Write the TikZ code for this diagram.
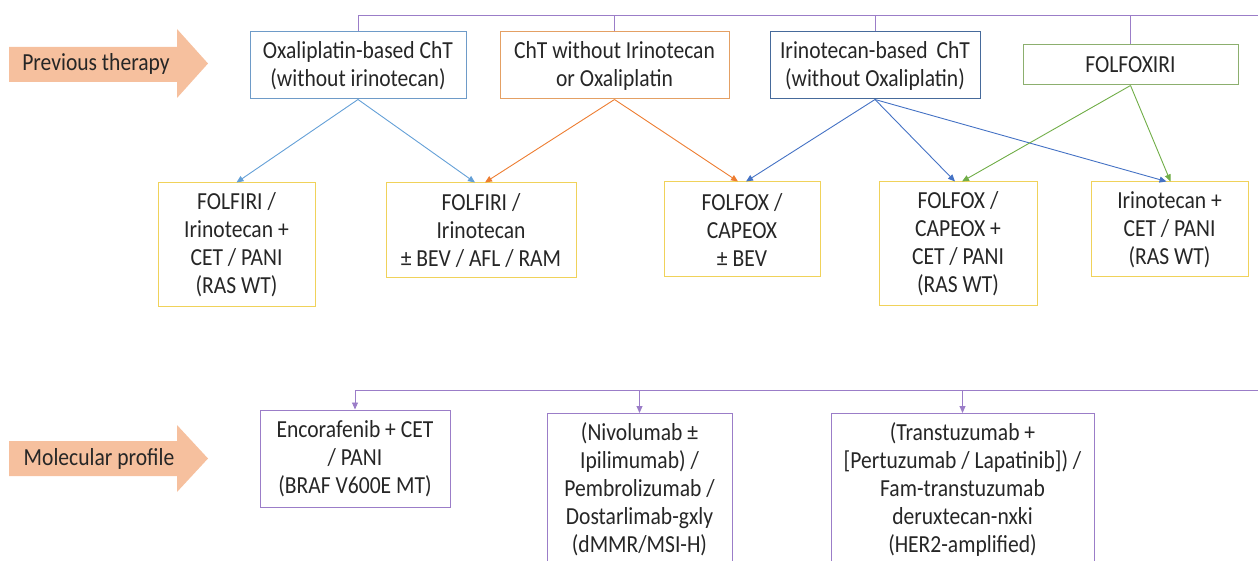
\documentclass[tikz,border=0pt]{standalone}
\usepackage{fontspec}
\setmainfont{Carlito}[FakeStretch=0.88]
\usepackage{tikz}
\usetikzlibrary{arrows.meta, calc}

\definecolor{txtgray}{RGB}{38,38,38}
\definecolor{peach}{RGB}{246,192,158}
\definecolor{oxblue}{RGB}{110,155,200}
\definecolor{oxline}{RGB}{100,160,215}
\definecolor{orgbox}{RGB}{228,160,100}
\definecolor{orgline}{RGB}{237,125,49}
\definecolor{iriblue}{RGB}{70,106,155}
\definecolor{iriline}{RGB}{68,114,196}
\definecolor{grnbox}{RGB}{140,175,110}
\definecolor{grnline}{RGB}{112,173,71}
\definecolor{ylwbox}{RGB}{240,210,90}
\definecolor{purp}{RGB}{155,125,200}

\begin{document}
\begin{tikzpicture}[x=1pt, y=-1pt,
  font=\fontsize{24.5}{28}\selectfont,
  box/.style={draw, line width=1pt, align=center, text=txtgray,
              inner sep=0pt},
  rbox/.style={box, draw=ylwbox, minimum width=157pt},
  mbox/.style={box, draw=purp, anchor=north, minimum height=152pt},
  arr/.style={-{Triangle[length=7pt,width=6pt]}, line width=0.9pt},
  link/.style={line width=0.9pt, purp},
]
\useasboundingbox (0,0) rectangle (1258,561);
\clip (0,0) rectangle (1258,561);

%% Side arrows
\fill[peach] (9,47) -- (177,47) -- (177,29) -- (208,63.5) -- (177,98)
  -- (177,82) -- (9,82) -- cycle;
\node[text=txtgray] (prev) at (96,63.5) {Previous therapy};

\fill[peach] (9,441) -- (177,441) -- (177,425) -- (208,458.5) -- (177,492)
  -- (177,476) -- (9,476) -- cycle;
\node[text=txtgray] (mol) at (99,458.5) {Molecular profile};

%% Previous therapy
\node[box, draw=oxblue, minimum width=216pt, minimum height=67pt]
  (oxa) at (358,65.5) {Oxaliplatin-based ChT\\(without irinotecan)};
\node[box, draw=orgbox, minimum width=229pt, minimum height=67pt]
  (noiro) at (614.5,65.5) {ChT without Irinotecan\\or Oxaliplatin};
\node[box, draw=iriblue, minimum width=210pt, minimum height=67pt]
  (iri) at (875,65.5) {Irinotecan-based\ \,ChT\\(without Oxaliplatin)};
\node[box, draw=grnbox, minimum width=215pt, minimum height=40pt]
  (fxiri) at (1130.5,65) {FOLFOXIRI};

\coordinate (topR) at (1258,15);
\draw[link] (oxa.north) |- (topR);
\draw[link] (noiro.north) -- (noiro.north |- topR);
\draw[link] (iri.north) -- (iri.north |- topR);
\draw[link] (fxiri.north) -- (fxiri.north |- topR);

%% Options
\node[rbox, minimum height=124pt] (r1) at (236.5,245)
  {FOLFIRI /\\Irinotecan +\\CET / PANI\\(RAS WT)};
\node[rbox, minimum width=190pt, minimum height=95pt] (r2) at (481,230.5)
  {FOLFIRI /\\Irinotecan\\± BEV / AFL / RAM};
\node[rbox, minimum width=156pt, minimum height=95pt] (r3) at (742,229.5)
  {FOLFOX /\\CAPEOX\\± BEV};
\node[rbox, minimum width=158pt, minimum height=124pt] (r4) at (958,244)
  {FOLFOX /\\CAPEOX +\\CET / PANI\\(RAS WT)};
\node[rbox, minimum height=95pt] (r5) at (1169.5,229.5)
  {Irinotecan +\\CET / PANI\\(RAS WT)};

\draw[arr, oxline] (oxa.south) -- (r1.north);
\draw[arr, oxline] (oxa.south) -- ([xshift=-6]r2.north);
\draw[arr, orgline] (noiro.south) -- ([xshift=4]r2.north);
\draw[arr, orgline] (noiro.south) -- ([xshift=-4]r3.north);
\draw[arr, iriline] (iri.south) -- ([xshift=4]r3.north);
\draw[arr, iriline] (iri.south) -- ([xshift=-3]r4.north);
\draw[arr, iriline] (iri.south) -- ([xshift=-3]r5.north);
\draw[arr, grnline] (fxiri.south) -- ([xshift=4]r4.north);
\draw[arr, grnline] (fxiri.south) -- ([xshift=1]r5.north);

%% Molecular profile
\node[box, draw=purp, minimum width=190pt, minimum height=97pt]
  (m1) at (355,458.5) {Encorafenib + CET\\/ PANI\\(BRAF V600E MT)};
\node[mbox, minimum width=185pt] (m2) at (639.5,413)
  {(Nivolumab ±\\Ipilimumab) /\\Pembrolizumab /\\Dostarlimab-gxly\\(dMMR/MSI-H)};
\node[mbox, minimum width=263pt] (m3) at (962.5,413)
  {(Transtuzumab +\\{}[Pertuzumab / Lapatinib]) /\\Fam-transtuzumab\\deruxtecan-nxki\\(HER2-amplified)};

\coordinate (molR) at (1258,390);
\draw[arr, purp] (molR) -| (m1.north);
\draw[arr, purp] (m2.north |- molR) -- (m2.north);
\draw[arr, purp] (m3.north |- molR) -- (m3.north);

\end{tikzpicture}
\end{document}
